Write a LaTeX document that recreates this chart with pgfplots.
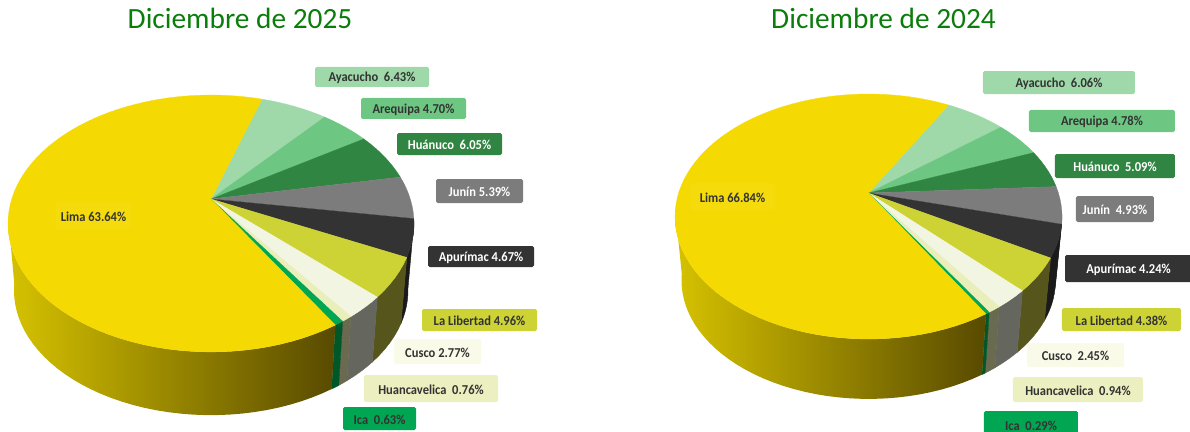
\documentclass[border=0pt]{standalone}
\usepackage{fontspec}
\setmainfont{Carlito}
\newfontfamily\labfont[FakeStretch=0.92]{Carlito Bold}
\usepackage{pgfplots}
\usepackage{pgfplotstable}
\pgfplotsset{compat=1.18}

\definecolor{tLima}{HTML}{F5D902}
\definecolor{tAya}{HTML}{9FD9A9}
\definecolor{tAre}{HTML}{6EC683}
\definecolor{tHua}{HTML}{318543}
\definecolor{tJun}{HTML}{7C7C7C}
\definecolor{tApu}{HTML}{333333}
\definecolor{tLib}{HTML}{CDD335}
\definecolor{tCus}{HTML}{F3F5E3}
\definecolor{tHuc}{HTML}{E9EEBB}
\definecolor{tIca}{HTML}{00A651}
\definecolor{lCus}{HTML}{FAFAE8}
\definecolor{lHuc}{HTML}{ECEFC0}
\definecolor{lLima}{HTML}{F5DB0C}
\definecolor{txt}{HTML}{333333}
\definecolor{titlegreen}{HTML}{0B7D0B}
\definecolor{rJun}{HTML}{474747}
\definecolor{rApu}{HTML}{1A1A1A}
\definecolor{rLib}{HTML}{55551C}
\definecolor{rCus}{HTML}{65665E}
\definecolor{rHuc}{HTML}{6A6A50}
\definecolor{rIca}{HTML}{005828}
\definecolor{rLimaL}{HTML}{D6C200}
\definecolor{rLimaR}{HTML}{584A00}

\tikzset{
  sNone/.style={fill=white},
  sJun/.style={fill=rJun,draw=rJun},
  sApu/.style={fill=rApu,draw=rApu},
  sLib/.style={fill=rLib,draw=rLib},
  sCus/.style={fill=rCus,draw=rCus},
  sHuc/.style={fill=rHuc,draw=rHuc},
  sIca/.style={fill=rIca,draw=rIca},
  sLima/.style={left color=rLimaL,right color=rLimaR},
}

% share in percent, clockwise from the first slice; colours of the top and the rim
\pgfplotstableread{
name share top side
Ayacucho 6.43 tAya sNone
Arequipa 4.70 tAre sNone
Huanuco 6.05 tHua sNone
Junin 5.39 tJun sJun
Apurimac 4.67 tApu sApu
LaLibertad 4.96 tLib sLib
Cusco 2.77 tCus sCus
Huancavelica 0.76 tHuc sHuc
Ica 0.63 tIca sIca
Lima 63.64 tLima sLima
}\dicA

\pgfplotstableread{
name share top side
Ayacucho 6.06 tAya sNone
Arequipa 4.78 tAre sNone
Huanuco 5.09 tHua sNone
Junin 4.93 tJun sJun
Apurimac 4.24 tApu sApu
LaLibertad 4.38 tLib sLib
Cusco 2.45 tCus sCus
Huancavelica 0.94 tHuc sHuc
Ica 0.29 tIca sIca
Lima 66.84 tLima sLima
}\dicB

% point of the rim at angle #1, seen in perspective from the apex
\newcommand{\rim}[1]{%
  \pgfmathsetmacro\rimx{\ax+\ka*sin(#1)/(1+\kk*cos(#1))}%
  \pgfmathsetmacro\rimy{\ay-\kb*cos(#1)/(1+\kk*cos(#1))}%
}

\newcommand{\topslice}[3]{%
  \pgfmathtruncatemacro\nn{max(2,ceil((#2-#1)/3))}%
  \xdef\pts{(\ax,\ay)}%
  \foreach \i in {0,...,\nn}{%
    \pgfmathsetmacro\tcur{#1+(#2-#1)/\nn*\i}%
    \rim{\tcur}%
    \xdef\pts{\pts (\rimx,\rimy)}%
  }%
  \edef\temp{\noexpand\addplot[mark=none,fill=#3,draw=#3,line width=0.2pt] coordinates {\pts} -- cycle;}%
  \temp
}

\newcommand{\sideslice}[3]{%
  \pgfmathtruncatemacro\nn{max(2,ceil((#2-#1)/3))}%
  \xdef\pts{}%
  \foreach \i in {0,...,\nn}{%
    \pgfmathsetmacro\tcur{#1+(#2-#1)/\nn*\i}%
    \rim{\tcur}%
    \xdef\pts{\pts (\rimx,\rimy)}%
  }%
  \foreach \i in {\nn,...,0}{%
    \pgfmathsetmacro\tcur{#1+(#2-#1)/\nn*\i}%
    \rim{\tcur}%
    \pgfmathsetmacro\lowx{\ax+\sc*(\rimx-\ax)}%
    \pgfmathsetmacro\lowy{\ey+\dd+\sc*(\rimy-\ey)}%
    \xdef\pts{\pts (\lowx,\lowy)}%
  }%
  \edef\temp{\noexpand\addplot[mark=none,draw=none,line width=0.3pt,#3] coordinates {\pts} -- cycle;}%
  \temp
}

% #1 table, #2 angle where the first slice starts
\newcommand{\pie}[2]{%
  \pgfmathsetmacro\ang{#2}%
  \pgfplotsforeachungrouped \r in {0,...,9}{%
    \pgfplotstablegetelem{\r}{share}\of#1\let\shr\pgfplotsretval
    \pgfplotstablegetelem{\r}{side}\of#1\let\sst\pgfplotsretval
    \pgfmathsetmacro\angend{\ang+3.6*\shr}%
    \pgfmathsetmacro\sa{max(\ang,100)}%
    \pgfmathsetmacro\sb{min(\angend,262)}%
    \pgfmathparse{\sb>\sa ? 1 : 0}%
    \ifdim\pgfmathresult pt>0.5pt \sideslice{\sa}{\sb}{\sst}\fi
    \global\let\ang\angend
  }%
  \pgfmathsetmacro\ang{#2}%
  \pgfplotsforeachungrouped \r in {0,...,9}{%
    \pgfplotstablegetelem{\r}{share}\of#1\let\shr\pgfplotsretval
    \pgfplotstablegetelem{\r}{top}\of#1\let\tst\pgfplotsretval
    \pgfmathsetmacro\angend{\ang+3.6*\shr}%
    \topslice{\ang}{\angend}{\tst}%
    \global\let\ang\angend
  }%
}

% box from x1 to x2, y1 to y2 in pixels: fill, text colour, text
\newcommand{\lab}[7]{%
  \node[fill=#5,rounded corners=1.2pt,inner sep=0pt,
    minimum width={(#2-#1)*0.75pt},minimum height={(#4-#3)*0.75pt}]
    at (axis cs:{(#1+#2)/2},{(#3+#4)/2}) {};
  \node[text=#6,inner sep=0pt,font=\fontsize{10.2}{11}\labfont]
    at (axis cs:{(#1+#2)/2},{(#3+#4)/2+1}) {#7};
}

\begin{document}
\begin{tikzpicture}
\useasboundingbox (0,0) rectangle (892.5pt,324pt);
\begin{axis}[
    scale only axis,
    width=892.5pt, height=324pt,
    xmin=0, xmax=1190,
    ymin=0, ymax=432,
    y dir=reverse,
    hide axis,
    clip=false,
]

% December 2025
\def\ax{211}\def\ay{199}\def\ka{199.3}\def\kb{123.8}\def\kk{0.1906}
\def\ey{223.5}\def\sc{0.9704}\def\dd{67}
\pie{\dicA}{17.6}

% December 2024
\def\ax{868.5}\def\ay{193}\def\ka{189.9}\def\kb{118}\def\kk{0.192}
\def\ey{216.5}\def\sc{0.9664}\def\dd{64}
\pie{\dicB}{29.5}

\node[text=titlegreen,font=\fontsize{22}{24}\selectfont] at (axis cs:240,18.5) {Diciembre de 2025};
\node[text=titlegreen,font=\fontsize{22}{24}\selectfont] at (axis cs:883.5,18.5) {Diciembre de 2024};

\lab{56}{131}{202}{229}{lLima}{txt}{Lima 63.64\%}
\lab{315}{429}{67}{87}{tAya}{txt}{Ayacucho\ \ 6.43\%}
\lab{361}{466}{98}{119}{tAre}{txt}{Arequipa 4.70\%}
\lab{397}{502}{133}{155}{tHua}{white}{Huánuco\ \ 6.05\%}
\lab{436}{523}{179}{203}{tJun}{white}{Junín 5.39\%}
\lab{428}{534}{246}{267}{tApu}{white}{Apurímac 4.67\%}
\lab{422}{537}{309}{331}{tLib}{txt}{La Libertad 4.96\%}
\lab{394}{481}{339}{364}{lCus}{txt}{Cusco 2.77\%}
\lab{364}{498}{375}{402}{lHuc}{txt}{Huancavelica\ \ 0.76\%}
\lab{343}{416}{407}{430}{tIca}{txt}{Ica\ \ 0.63\%}

\lab{690}{775}{183}{210}{lLima}{txt}{Lima 66.84\%}
\lab{983}{1135}{71}{94}{tAya}{txt}{Ayacucho\ \ 6.06\%}
\lab{1029}{1175}{110}{132}{tAre}{txt}{Arequipa 4.78\%}
\lab{1055}{1175}{154}{178}{tHua}{white}{Huánuco\ \ 5.09\%}
\lab{1076}{1154}{196}{222}{tJun}{white}{Junín\ \ 4.93\%}
\lab{1065}{1192}{255}{282}{tApu}{white}{Apurímac 4.24\%}
\lab{1062}{1181}{308}{331}{tLib}{txt}{La Libertad 4.38\%}
\lab{1027}{1124}{343}{367}{lCus}{txt}{Cusco\ \ 2.45\%}
\lab{1013}{1143}{377}{402}{lHuc}{txt}{Huancavelica\ \ 0.94\%}
\lab{984}{1078}{411}{438}{tIca}{txt}{Ica\ \ 0.29\%}

\end{axis}
\end{tikzpicture}
\end{document}
